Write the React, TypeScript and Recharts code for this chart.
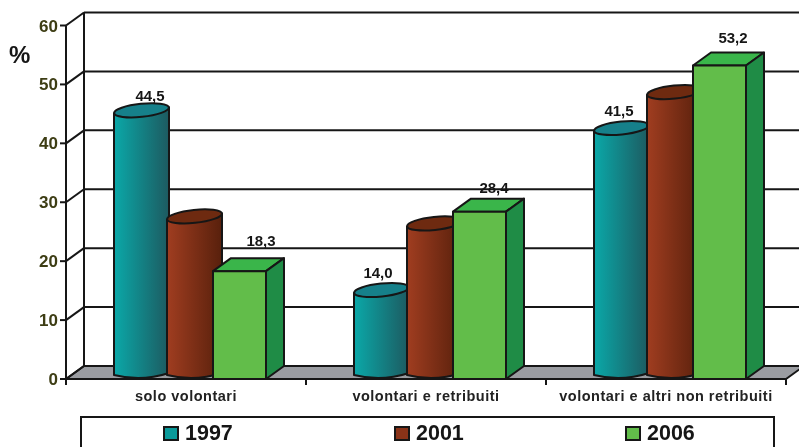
import { Bar, BarChart, CartesianGrid, Legend, XAxis, YAxis } from 'recharts'

const categories = ['solo volontari', 'volontari e retribuiti', 'volontari e altri non retribuiti']
const series1997 = [44.5, 14.0, 41.5]
const series2001 = [26.5, 25.3, 47.6]
const series2006 = [18.3, 28.4, 53.2]
const yTicks = [0, 10, 20, 30, 40, 50, 60]

const data = categories.map((name, i) => ({
  name,
  y1997: series1997[i],
  y2001: series2001[i],
  y2006: series2006[i],
}))

const FONT = '"Liberation Sans", Arial, sans-serif'
const INK = '#161616'
const DEPTH_X = 18
const DEPTH_Y = 13
const ELLIPSE_RY = 6.5
const BAND = 240

function gridLine(props: any) {
  const { x1, y1, x2, index } = props
  const isFloor = Math.abs(y1 - 379) < 1
  return (
    <g key={`grid-${index}`}>
      {isFloor && (
        <>
          <polygon
            points={`${x1},${y1} ${x1 + DEPTH_X},${y1 - DEPTH_Y} ${x2 + DEPTH_X},${y1 - DEPTH_Y} ${x2},${y1}`}
            fill="#9a9ca1"
            stroke={INK}
            strokeWidth={2}
          />
          <line x1={x1 + DEPTH_X} y1={y1 - DEPTH_Y} x2={x1 + DEPTH_X} y2={12.5} stroke={INK} strokeWidth={2} />
        </>
      )}
      <line x1={x1} y1={y1} x2={x1 + DEPTH_X} y2={y1 - DEPTH_Y} stroke={INK} strokeWidth={2} />
      <line x1={x1 + DEPTH_X} y1={y1 - DEPTH_Y} x2={x2 + DEPTH_X} y2={y1 - DEPTH_Y} stroke={INK} strokeWidth={2} />
    </g>
  )
}

function Cylinder({ x, y, height, grad, top, dx }: any) {
  const w = 55
  const left = x + dx
  const rx = w / 2
  const bottom = y + height
  const cy = y - 6.5
  // the cap is tipped up on the right, as in the source image
  const tilt = 3
  return (
    <g>
      <path
        d={`M${left},${cy + tilt} L${left},${bottom - 4} Q${left + rx},${bottom + 3} ${left + w},${bottom - 6} L${left + w},${cy - tilt} Z`}
        fill={`url(#${grad})`}
        stroke={INK}
        strokeWidth={2}
        strokeLinejoin="round"
      />
      <ellipse
        cx={left + rx}
        cy={cy}
        rx={rx}
        ry={ELLIPSE_RY}
        transform={`rotate(-6 ${left + rx} ${cy})`}
        fill={top}
        stroke={INK}
        strokeWidth={2}
      />
    </g>
  )
}

function Box({ x, y, height }: any) {
  const left = x + 2
  const w = 53
  const bottom = y + height
  return (
    <g stroke={INK} strokeWidth={2} strokeLinejoin="round">
      <polygon
        points={`${left},${y} ${left + DEPTH_X},${y - DEPTH_Y} ${left + w + DEPTH_X},${y - DEPTH_Y} ${left + w},${y}`}
        fill="#3ab54a"
      />
      <polygon
        points={`${left + w},${y} ${left + w + DEPTH_X},${y - DEPTH_Y} ${left + w + DEPTH_X},${bottom - DEPTH_Y} ${left + w},${bottom}`}
        fill="#1f8c46"
      />
      <rect x={left} y={y} width={w} height={height} fill="#62bd4a" />
    </g>
  )
}

const labelNudge1997 = [
  [11, -21],
  [-1, -24],
  [0, -23],
]
const labelNudge2006 = [
  [22, -30],
  [15, -24],
  [14, -28],
]

function valueLabel(nudge: number[][], base: number) {
  return (props: any) => {
    const { x, y, value, index } = props
    return (
      <text
        x={x + base + nudge[index][0]}
        y={y + nudge[index][1] + 5}
        textAnchor="middle"
        fontFamily={FONT}
        fontWeight="bold"
        fontSize={15}
        fill={INK}
      >
        {value.toFixed(1).replace('.', ',')}
      </text>
    )
  }
}

function CategoryTick({ x, y, payload }: any) {
  return (
    <g>
      <line x1={x - BAND / 2} y1={379} x2={x - BAND / 2} y2={385} stroke={INK} strokeWidth={2} />
      <line x1={x + BAND / 2} y1={379} x2={x + BAND / 2} y2={385} stroke={INK} strokeWidth={2} />
      <text
        x={x}
        y={y + 14}
        textAnchor="middle"
        fontFamily={FONT}
        fontWeight="bold"
        fontSize={14.5}
        letterSpacing={0.5}
        fill="#222"
      >
        {payload.value}
      </text>
    </g>
  )
}

function LegendBox({ payload }: any) {
  return (
    <div
      style={{
        boxSizing: 'border-box',
        position: 'relative',
        width: 695,
        height: 44,
        border: `2px solid ${INK}`,
        background: '#fff',
      }}
    >
      {(payload || []).map((entry: any, i: number) => (
        <div
          key={entry.value}
          style={{
            position: 'absolute',
            left: 81 + i * 231,
            top: 3,
            display: 'flex',
            alignItems: 'center',
            fontFamily: FONT,
            fontWeight: 'bold',
            fontSize: 21.5,
            lineHeight: '24px',
            color: INK,
          }}
        >
          <span
            style={{
              boxSizing: 'border-box',
              display: 'inline-block',
              width: 16,
              height: 15,
              marginRight: 6,
              background: entry.color,
              border: `2px solid ${INK}`,
            }}
          />
          {entry.value}
        </div>
      ))}
    </div>
  )
}

export default function App() {
  return (
    <div
      style={{
        position: 'absolute',
        left: 0,
        top: 0,
        width: 799,
        height: 447,
        overflow: 'hidden',
        background: '#fff',
        filter: 'blur(0.6px)',
      }}
    >
      <BarChart
        width={799}
        height={447}
        data={data}
        barSize={50}
        barGap={0}
        margin={{ top: 25.5, right: 13, bottom: 0, left: 0 }}
      >
        <defs>
          <linearGradient id="teal" x1="0" y1="0" x2="1" y2="0">
            <stop offset="0%" stopColor="#0aa8a8" />
            <stop offset="100%" stopColor="#1d5a60" />
          </linearGradient>
          <linearGradient id="brown" x1="0" y1="0" x2="1" y2="0">
            <stop offset="0%" stopColor="#a03d20" />
            <stop offset="100%" stopColor="#58200c" />
          </linearGradient>
        </defs>
        <CartesianGrid horizontal={gridLine} vertical={false} />
        <XAxis
          dataKey="name"
          height={30}
          tickLine={false}
          interval={0}
          axisLine={{ stroke: INK, strokeWidth: 2 }}
          tick={<CategoryTick />}
        />
        <YAxis
          width={66}
          domain={[0, 60]}
          ticks={yTicks}
          interval={0}
          tickSize={6}
          tickMargin={2}
          axisLine={{ stroke: INK, strokeWidth: 2 }}
          tickLine={{ stroke: INK, strokeWidth: 2 }}
          tick={{ fontFamily: FONT, fontWeight: 'bold', fontSize: 17, fill: '#3d3d14' }}
        />
        <Legend
          height={38}
          content={<LegendBox />}
          wrapperStyle={{ left: 80, top: 416, width: 695, bottom: 'auto' }}
        />
        <Bar
          dataKey="y1997"
          name="1997"
          fill="#0a9a9a"
          isAnimationActive={false}
          shape={<Cylinder grad="teal" top="#16808a" dx={3} />}
          label={valueLabel(labelNudge1997, 28)}
        />
        <Bar
          dataKey="y2001"
          name="2001"
          fill="#8a3318"
          isAnimationActive={false}
          shape={<Cylinder grad="brown" top="#6e2a10" dx={6} />}
        />
        <Bar
          dataKey="y2006"
          name="2006"
          fill="#62bd4a"
          isAnimationActive={false}
          shape={<Box />}
          label={valueLabel(labelNudge2006, 28)}
        />
        <text x={9} y={63} fontFamily={FONT} fontWeight="bold" fontSize={24} fill={INK}>
          %
        </text>
      </BarChart>
    </div>
  )
}
